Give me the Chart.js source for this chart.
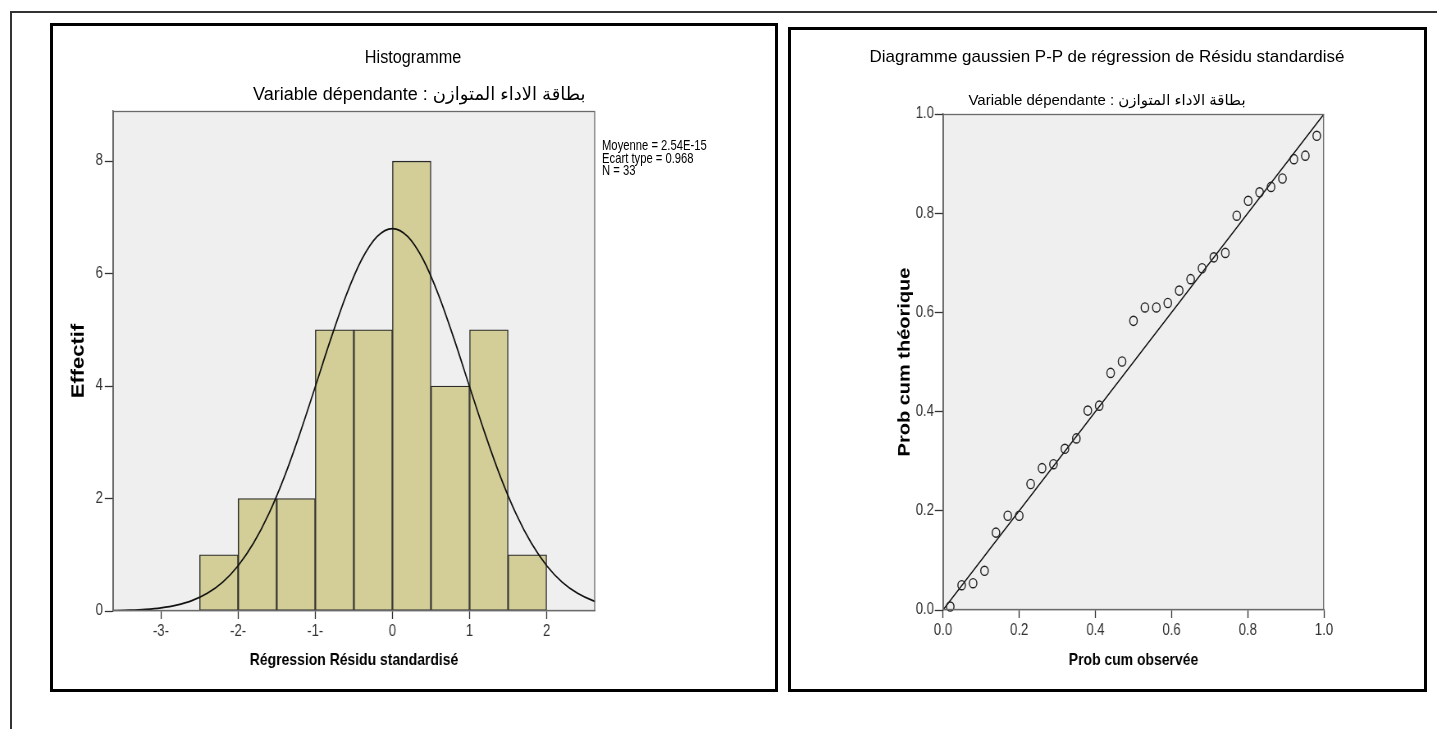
<!DOCTYPE html>
<html>
<head>
<meta charset="utf-8">
<script src="https://cdn.jsdelivr.net/npm/chart.js@4.4.1/dist/chart.umd.min.js"></script>
<style>
  html, body { margin:0; padding:0; background:#fff; width:1437px; height:729px; overflow:hidden; }
  body { position:relative; font-family:"Liberation Sans", Arial, "DejaVu Sans", sans-serif; color:#000; }
  .abs { position:absolute; }
  #outerTop { left:10px; top:11px; width:1427px; height:0; border-top:2px solid #333; }
  #outerLeft { left:10px; top:11px; width:0; height:718px; border-left:2px solid #333; }
  #box1 { left:50px; top:23px; width:722px; height:663px; border:3px solid #000; }
  #box2 { left:788px; top:27px; width:633px; height:659px; border:3px solid #000; }
  .t { position:absolute; white-space:nowrap; line-height:22px; height:22px; }
  canvas { position:absolute; top:0; }
</style>
</head>
<body>
<div id="outerTop" class="abs"></div>
<div id="outerLeft" class="abs"></div>
<div id="box1" class="abs"></div>
<div id="box2" class="abs"></div>

<!-- canvases are drawn wider and shown horizontally condensed, like the reference -->
<canvas id="c1" width="951" height="729" style="left:0px; width:780px; height:729px;"></canvas>
<canvas id="c2" width="801" height="729" style="left:780px; width:657px; height:729px;"></canvas>

<div class="t" style="left:413px; top:46px; font-size:18px; transform:translateX(-50%) scaleX(0.9);">Histogramme</div>
<div class="t" style="left:253px; top:83px; font-size:18px;">Variable dépendante : بطاقة الاداء المتوازن</div>
<div class="t" style="left:602px; top:139px; font-size:15px; line-height:12.5px; height:auto; transform-origin:0 0; transform:scaleX(0.75);">Moyenne = 2.54E-15<br>Ecart type = 0.968<br>N = 33</div>

<div class="t" style="left:1107px; top:46px; transform:translateX(-50%); font-size:17px;">Diagramme gaussien P-P de régression de Résidu standardisé</div>
<div class="t" style="left:1107px; top:89px; transform:translateX(-50%); font-size:15px;">Variable dépendante : بطاقة الاداء المتوازن</div>

<script>
// ---------- Histogram data ----------
const binStart = [-2.5, -2.0, -1.5, -1.0, -0.5, 0.0, 0.5, 1.0, 1.5];
const binEnd   = [-2.0, -1.5, -1.0, -0.5, 0.0, 0.5, 1.0, 1.5, 2.0];
const binCount = [1, 2, 2, 5, 5, 8, 4, 5, 1];

// Normal curve
const curveX = [-3.8, -3.6, -3.4, -3.2, -3.0, -2.8, -2.6, -2.4, -2.2, -2.0, -1.8, -1.6, -1.4, -1.2, -1.0, -0.8, -0.6, -0.4, -0.2,
                0.0, 0.2, 0.4, 0.6, 0.8, 1.0, 1.2, 1.4, 1.6, 1.8, 2.0, 2.2, 2.4, 2.6, 2.8];
const curveY = [0.003, 0.007, 0.014, 0.029, 0.056, 0.104, 0.185, 0.315, 0.514, 0.805, 1.207, 1.735, 2.389, 3.154, 3.988, 4.833, 5.612, 6.244, 6.656,
                6.800, 6.656, 6.244, 5.612, 4.833, 3.988, 3.154, 2.389, 1.735, 1.207, 0.805, 0.514, 0.315, 0.185, 0.104];

const histXTicks = [-3, -2, -1, 0, 1, 2];
const histXTickLabels = ['-3-', '-2-', '-1-', '0', '1', '2'];
const histYTicks = [0, 2, 4, 6, 8];
const histYTickLabels = ['0', '2', '4', '6', '8'];

// ---------- P-P plot data ----------
const ppObserved = [0.019, 0.049, 0.079, 0.109, 0.139, 0.170, 0.200, 0.230, 0.260, 0.290, 0.320, 0.350, 0.380, 0.410, 0.440, 0.470, 0.500,
                    0.530, 0.560, 0.590, 0.620, 0.650, 0.680, 0.711, 0.741, 0.771, 0.801, 0.831, 0.861, 0.891, 0.921, 0.951, 0.981];
const ppExpected = [0.007, 0.050, 0.054, 0.079, 0.156, 0.190, 0.190, 0.254, 0.286, 0.294, 0.325, 0.346, 0.402, 0.412, 0.478, 0.501, 0.583,
                    0.610, 0.610, 0.619, 0.644, 0.667, 0.689, 0.711, 0.720, 0.795, 0.825, 0.842, 0.853, 0.870, 0.909, 0.916, 0.956];
const refLineX = [0, 1];
const refLineY = [0, 1];
const ppTicks = [0, 0.2, 0.4, 0.6, 0.8, 1.0];
const ppTickLabels = ['0.0', '0.2', '0.4', '0.6', '0.8', '1.0'];

// ---------- shared styling ----------
const SANS = "'Liberation Sans',Arial,sans-serif";

const plotFrame = {
  id: 'plotFrame',
  beforeDraw(chart) {
    const { ctx, chartArea: a } = chart;
    ctx.save();
    ctx.fillStyle = '#EFEFEF';
    ctx.fillRect(a.left, a.top, a.right - a.left, a.bottom - a.top);
    ctx.restore();
  },
  afterDraw(chart) {
    const { ctx, chartArea: a } = chart;
    ctx.save();
    ctx.strokeStyle = '#6a6a6a';
    ctx.lineWidth = 1.3;
    ctx.strokeRect(a.left + 0.5, a.top + 0.5, a.right - a.left - 1, a.bottom - a.top - 1);
    ctx.restore();
  }
};

function axisCommon(tickVals, tickLabels, pad, tickLen) {
  return {
    grid: { display: true, drawOnChartArea: false, drawTicks: true, tickLength: tickLen, tickColor: '#333', tickWidth: 1.3, offset: false },
    border: { display: true, color: '#444', width: 1.3 },
    afterBuildTicks(s) { s.ticks = tickVals.map(v => ({ value: v })); },
    ticks: {
      autoSkip: false, maxRotation: 0, minRotation: 0, padding: pad, color: '#333',
      font: { family: SANS, size: 16 },
      callback: (v) => { const i = tickVals.findIndex(t => Math.abs(t - v) < 1e-9); return i >= 0 ? tickLabels[i] : ''; }
    }
  };
}

// ---------- Histogram ----------
new Chart(document.getElementById('c1'), {
  type: 'bar',
  data: {
    datasets: [
      {
        type: 'line',
        data: curveX.map((x, i) => ({ x: x, y: curveY[i] })),
        borderColor: '#111', borderWidth: 1.7, pointRadius: 0, fill: false,
        cubicInterpolationMode: 'monotone', order: 0
      },
      {
        type: 'bar',
        data: binStart.map((s, i) => ({ x: (s + binEnd[i]) / 2, y: binCount[i] })),
        backgroundColor: '#D3CE98', borderColor: '#2a2a2a', borderWidth: 1.4, borderSkipped: false,
        barPercentage: 1, categoryPercentage: 1, order: 1
      }
    ]
  },
  options: {
    responsive: false, animation: false, events: [],
    layout: { padding: { left: 70, right: 225.5, top: 111, bottom: 50 } },
    plugins: { legend: { display: false }, tooltip: { enabled: false }, title: { display: false } },
    scales: {
      x: Object.assign(axisCommon(histXTicks, histXTickLabels, 3, 8), {
        type: 'linear', min: -3.622, max: 2.627, offset: false,
        afterFit(s) { s.height = 68; },
        title: { display: true, text: 'Régression Résidu standardisé', color: '#000',
                 font: { family: SANS, size: 17, weight: 'bold', lineHeight: 1.2 }, padding: { top: 4, bottom: 8.8 } }
      }),
      y: Object.assign(axisCommon(histYTicks, histYTickLabels, 2.5, 10), {
        type: 'linear', min: 0, max: 8.89,
        afterFit(s) { s.width = 67.8; },
        title: { display: true, text: 'Effectif', color: '#000',
                 font: { family: SANS, size: 22, weight: 'bold', lineHeight: 1.2 }, padding: { top: 13, bottom: 4 } }
      })
    }
  },
  plugins: [plotFrame]
});

// ---------- P-P plot ----------
new Chart(document.getElementById('c2'), {
  type: 'scatter',
  data: {
    datasets: [
      {
        type: 'line',
        data: refLineX.map((x, i) => ({ x: x, y: refLineY[i] })),
        borderColor: '#111', borderWidth: 1.4, pointRadius: 0, fill: false, order: 1
      },
      {
        type: 'scatter',
        data: ppObserved.map((x, i) => ({ x: x, y: ppExpected[i] })),
        pointStyle: 'circle', pointRadius: 4.6, borderColor: '#222', borderWidth: 1.4,
        backgroundColor: 'rgba(0,0,0,0)', clip: false, order: 0
      }
    ]
  },
  options: {
    responsive: false, animation: false, events: [],
    layout: { padding: { left: 130, right: 137.8, top: 114, bottom: 50 } },
    plugins: { legend: { display: false }, tooltip: { enabled: false }, title: { display: false } },
    scales: {
      x: Object.assign(axisCommon(ppTicks, ppTickLabels, 3, 8), {
        type: 'linear', min: 0, max: 1,
        afterFit(s) { s.height = 69; },
        title: { display: true, text: 'Prob cum observée', color: '#000',
                 font: { family: SANS, size: 17, weight: 'bold', lineHeight: 1.2 }, padding: { top: 4, bottom: 8.8 } }
      }),
      y: Object.assign(axisCommon(ppTicks, ppTickLabels, 1, 10), {
        type: 'linear', min: 0, max: 1,
        afterFit(s) { s.width = 68.7; },
        title: { display: true, text: 'Prob cum théorique', color: '#000',
                 font: { family: SANS, size: 20, weight: 'bold', lineHeight: 1.2 }, padding: { top: 10.4, bottom: 4 } }
      })
    }
  },
  plugins: [plotFrame]
});
</script>
</body>
</html>
